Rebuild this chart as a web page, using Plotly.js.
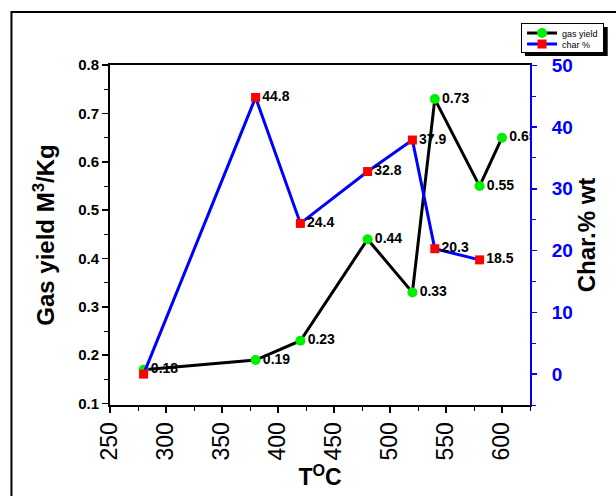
<!DOCTYPE html>
<html>
<head>
<meta charset="utf-8">
<script src="https://cdn.plot.ly/plotly-3.0.1.min.js"></script>
<style>html,body{margin:0;padding:0;background:#fff;}#chart{width:616px;height:496px;}</style>
</head>
<body>
<div id="chart"></div>
<script>
// Data
const gasTemps = [280, 380, 420, 480, 520, 540, 580, 600];
const gasYield = [0.17, 0.19, 0.23, 0.44, 0.33, 0.73, 0.55, 0.65];
const gasLabels = ['0.18', '0.19', '0.23', '0.44', '0.33', '0.73', '0.55', '0.65'];

const charTemps = [280, 380, 420, 480, 520, 540, 580];
const charPct = [0, 44.8, 24.4, 32.8, 37.9, 20.3, 18.5];
const charLabels = ['', '44.8', '24.4', '32.8', '37.9', '20.3', '18.5'];

const xTicks = [250, 300, 350, 400, 450, 500, 550, 600];
const gasTicks = [0.1, 0.2, 0.3, 0.4, 0.5, 0.6, 0.7, 0.8];
const charTicks = [0, 10, 20, 30, 40, 50];

const FONT = 'Arial, "Liberation Sans", sans-serif';
const BLUE = '#0000ff';

const traces = [
  {
    x: gasTemps, y: gasYield, text: gasLabels, name: 'gas yield',
    type: 'scatter', mode: 'lines+markers+text', textposition: 'middle right',
    textfont: {family: FONT, size: 14, color: '#000', weight: 'bold'},
    line: {color: '#000', width: 3},
    marker: {color: '#00ee00', size: 10, symbol: 'circle'},
    xaxis: 'x', yaxis: 'y'
  },
  {
    x: charTemps, y: charPct, text: charLabels, name: 'char %',
    type: 'scatter', mode: 'lines+markers+text', textposition: 'middle right',
    textfont: {family: FONT, size: 14, color: '#000', weight: 'bold'},
    line: {color: BLUE, width: 3},
    marker: {color: '#ff0000', size: 9, symbol: 'square'},
    xaxis: 'x', yaxis: 'y2'
  }
];

const layout = {
  width: 616, height: 496,
  margin: {l: 110, r: 84, t: 65, b: 91, pad: 0},
  paper_bgcolor: '#fff', plot_bgcolor: '#fff',
  font: {family: FONT, color: '#000'},
  showlegend: true,
  legend: {
    x: 0.9787, y: 1.1235, xanchor: 'left', yanchor: 'top',
    bgcolor: '#fff', bordercolor: '#000', borderwidth: 1,
    font: {family: FONT, size: 9, color: '#000'},
    tracegroupgap: 0, itemwidth: 30
  },
  xaxis: {
    range: [250, 625], tickvals: xTicks, ticktext: xTicks.map(String),
    tickangle: -90, tickfont: {family: FONT, size: 23, color: '#000'},
    showgrid: false, zeroline: false,
    showline: true, linecolor: '#000', linewidth: 2, mirror: true,
    ticks: 'outside', ticklen: 6, tickwidth: 1.5, tickcolor: '#000',
    minor: {dtick: 25, ticks: 'outside', ticklen: 4, tickwidth: 1, tickcolor: '#000'},
    title: {text: 'T<sup>O</sup>C', font: {family: FONT, size: 23, color: '#000', weight: 'bold'}, standoff: 0},
    automargin: false
  },
  yaxis: {
    range: [0.097, 0.8005], tickvals: gasTicks, ticktext: gasTicks.map(v => v.toFixed(1)),
    tickfont: {family: FONT, size: 15, color: '#000', weight: 'bold'},
    showgrid: false, zeroline: false,
    showline: true, linecolor: '#000', linewidth: 2,
    ticks: 'outside', ticklen: 6, tickwidth: 1.5, tickcolor: '#000',
    minor: {dtick: 0.05, ticks: 'outside', ticklen: 4, tickwidth: 1, tickcolor: '#000'},
    title: {text: 'Gas yield M<sup>3</sup>/Kg', font: {family: FONT, size: 24, color: '#000', weight: 'bold'}, standoff: 17},
    automargin: false
  },
  yaxis2: {
    overlaying: 'y', side: 'right', range: [-5, 50.05], tickvals: charTicks, ticktext: charTicks.map(String),
    tickfont: {family: FONT, size: 19, color: BLUE, weight: 'bold'},
    showgrid: false, zeroline: false,
    showline: true, linecolor: BLUE, linewidth: 2,
    ticks: 'outside', ticklen: 5, tickwidth: 1.5, tickcolor: BLUE, ticklabelstandoff: 11,
    minor: {dtick: 5, ticks: 'outside', ticklen: 4, tickwidth: 1, tickcolor: BLUE},
    title: {text: 'Char.% wt', font: {family: FONT, size: 24, color: '#000', weight: 'bold'}, standoff: 4},
    automargin: false
  },
  shapes: [
    {type: 'rect', xref: 'paper', yref: 'paper', x0: -0.2346, x1: 1.25, y0: -0.32, y1: 1.1559,
     line: {color: '#000', width: 2}, fillcolor: 'rgba(0,0,0,0)', layer: 'below'},
    {type: 'rect', xref: 'paper', yref: 'paper', x0: 0.988, x1: 1.185, y0: 1.0265, y1: 1.1118,
     line: {width: 0}, fillcolor: '#000', layer: 'below'}
  ]
};

Plotly.newPlot('chart', traces, layout, {displayModeBar: false, staticPlot: true}).then(function (gd) {
  // compact the legend rows to the reference's tighter spacing
  const leg = gd.querySelector('g.legend');
  if (!leg) return;
  const items = leg.querySelectorAll('g.traces');
  const rows = [10, 21];
  items.forEach(function (g, i) {
    const m = /translate\(([-\d.]+)[ ,]+([-\d.]+)\)/.exec(g.getAttribute('transform') || '');
    const x = m ? parseFloat(m[1]) : 0;
    g.setAttribute('transform', 'translate(' + x + ',' + rows[i] + ')');
  });
  const bg = leg.querySelector('rect.bg');
  if (bg) bg.setAttribute('height', 29);
});
</script>
</body>
</html>
